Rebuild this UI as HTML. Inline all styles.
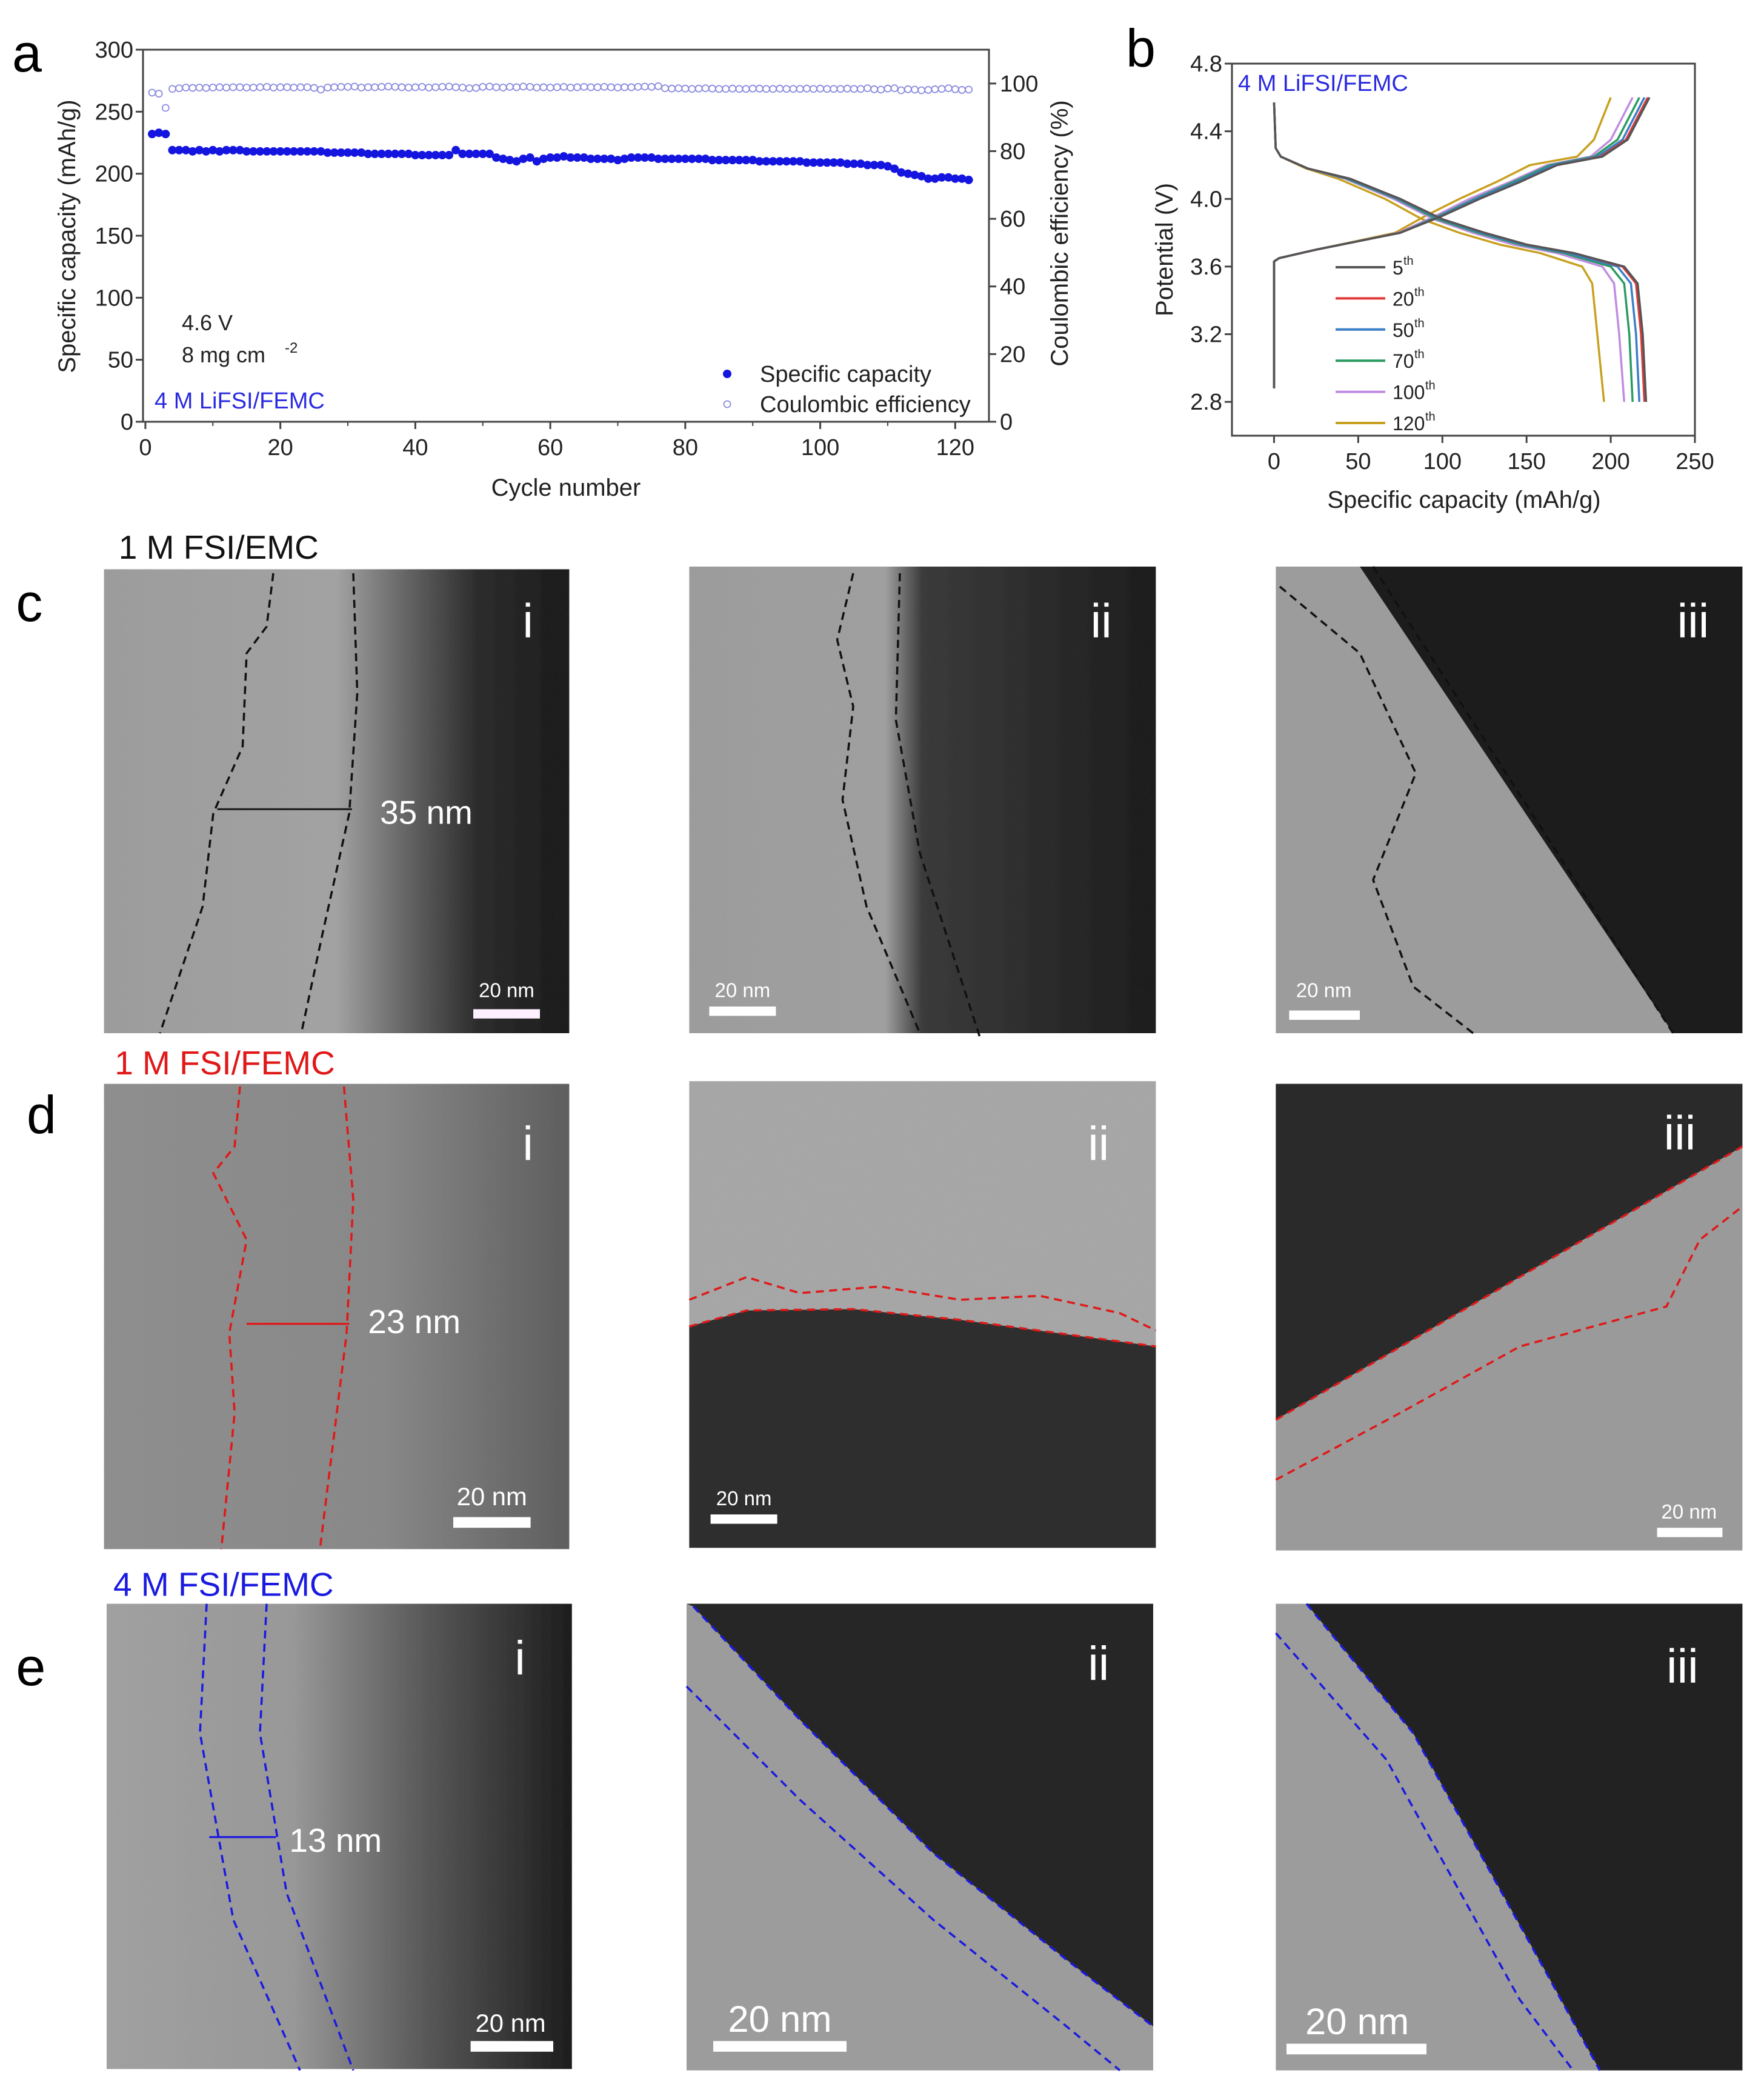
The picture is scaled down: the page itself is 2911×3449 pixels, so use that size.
<!DOCTYPE html>
<html><head><meta charset="utf-8">
<style>
html,body{margin:0;padding:0;background:#fff;}
svg{display:block;font-family:"Liberation Sans",Arial,sans-serif;}
</style></head>
<body>
<svg id="fig" xmlns="http://www.w3.org/2000/svg" width="2911" height="3449" viewBox="0 0 2911 3449">
<defs>
<filter id="noise" x="0" y="0" width="100%" height="100%">
<feTurbulence type="fractalNoise" baseFrequency="0.35" numOctaves="2" seed="3" result="t"/>
<feColorMatrix in="t" type="matrix" values="0 0 0 0 0.5  0 0 0 0 0.5  0 0 0 0 0.5  0 0 0 0.28 0" result="n"/>
<feComposite in="n" in2="SourceGraphic" operator="in" result="nn"/>
<feBlend in="SourceGraphic" in2="nn" mode="overlay"/>
</filter>
<linearGradient id="gci" x1="0" y1="0" x2="1" y2="0"><stop offset="0" stop-color="#9c9c9c"/><stop offset="0.5" stop-color="#a2a2a2"/><stop offset="0.62" stop-color="#707070"/><stop offset="0.8" stop-color="#2c2c2c"/><stop offset="1" stop-color="#1a1a1a"/></linearGradient>
<linearGradient id="gcii" x1="0" y1="0" x2="1" y2="0"><stop offset="0" stop-color="#9c9c9c"/><stop offset="0.42" stop-color="#9f9f9f"/><stop offset="0.5" stop-color="#3a3a3a"/><stop offset="1" stop-color="#1c1c1c"/></linearGradient>
<linearGradient id="gdi" x1="0" y1="0" x2="1" y2="0"><stop offset="0" stop-color="#8e8e8e"/><stop offset="0.6" stop-color="#888"/><stop offset="1" stop-color="#5e5e5e"/></linearGradient>
<linearGradient id="gei" x1="0" y1="0" x2="1" y2="0"><stop offset="0" stop-color="#a0a0a0"/><stop offset="0.4" stop-color="#989898"/><stop offset="0.7" stop-color="#555"/><stop offset="1" stop-color="#1c1c1c"/></linearGradient>
</defs>

<!-- ================= Chart a ================= -->
<g id="chartA"></g>
<!-- ================= Chart b ================= -->
<g id="chartB"></g>

<!-- ================= TEM images ================= -->
<g transform="scale(2.2)">
 <text x="12" y="466" font-size="40">c</text>
 <text x="20" y="850" font-size="40">d</text>
 <text x="12" y="1264" font-size="40">e</text>
 <text x="89" y="419" font-size="25" fill="#111">1 M FSI/EMC</text>
 <text x="86" y="806" font-size="25" fill="#e01818">1 M FSI/FEMC</text>
 <text x="85" y="1197" font-size="25" fill="#1a1ae0">4 M FSI/FEMC</text>

 <!-- c-i -->
 <g>
  <rect x="78" y="427" width="349" height="348" fill="url(#gci)" filter="url(#noise)"/>
  <path d="M205,430 L200,470 L185,490 L182,560 L160,610 L152,680 L120,775" fill="none" stroke="#111" stroke-width="1.6" stroke-dasharray="6,4"/>
  <path d="M265,430 L268,520 L262,610 L242,700 L226,775" fill="none" stroke="#111" stroke-width="1.6" stroke-dasharray="6,4"/>
  <line x1="163" y1="607" x2="264" y2="607" stroke="#222" stroke-width="1.5"/>
  <text x="285" y="618" font-size="25" fill="#fff">35 nm</text>
  <text x="392" y="478" font-size="36" fill="#fff">i</text>
  <rect x="355" y="757" width="50" height="7" fill="#fff0ff"/>
  <text x="380" y="748" font-size="15" fill="#fff" text-anchor="middle">20 nm</text>
 </g>
 <!-- c-ii -->
 <g>
  <rect x="517" y="425" width="350" height="350" fill="url(#gcii)" filter="url(#noise)"/>
  <path d="M640,430 L628,480 L640,530 L632,600 L650,680 L690,775" fill="none" stroke="#111" stroke-width="1.6" stroke-dasharray="6,4"/>
  <path d="M675,430 L672,540 L690,640 L735,778" fill="none" stroke="#111" stroke-width="1.6" stroke-dasharray="6,4"/>
  <text x="818" y="478" font-size="36" fill="#fff">ii</text>
  <rect x="532" y="755" width="50" height="7" fill="#fff"/>
  <text x="557" y="748" font-size="15" fill="#fff" text-anchor="middle">20 nm</text>
 </g>
 <!-- c-iii -->
 <g>
  <rect x="957" y="425" width="350" height="350" fill="#9c9c9c" filter="url(#noise)"/>
  <polygon points="1020,425 1307,425 1307,775 1255,775" fill="#1c1c1c"/>
  <path d="M1030,425 L1255,775" fill="none" stroke="#111" stroke-width="1.6" stroke-dasharray="6,4"/>
  <path d="M960,440 L1020,490 L1062,580 L1030,660 L1060,740 L1105,775" fill="none" stroke="#111" stroke-width="1.6" stroke-dasharray="6,4"/>
  <text x="1258" y="478" font-size="36" fill="#fff">iii</text>
  <rect x="967" y="758" width="53" height="7" fill="#fff"/>
  <text x="993" y="748" font-size="15" fill="#fff" text-anchor="middle">20 nm</text>
 </g>

 <!-- d-i -->
 <g>
  <rect x="78" y="813" width="349" height="349" fill="url(#gdi)" filter="url(#noise)"/>
  <path d="M180,815 L176,860 L160,880 L185,930 L172,1000 L176,1060 L166,1162" fill="none" stroke="#e01818" stroke-width="1.6" stroke-dasharray="6,4"/>
  <path d="M258,815 L265,900 L260,1000 L240,1162" fill="none" stroke="#e01818" stroke-width="1.6" stroke-dasharray="6,4"/>
  <line x1="185" y1="993" x2="262" y2="993" stroke="#e01818" stroke-width="1.5"/>
  <text x="276" y="1000" font-size="25" fill="#fff">23 nm</text>
  <text x="392" y="870" font-size="36" fill="#fff">i</text>
  <rect x="340" y="1138" width="58" height="8" fill="#fff"/>
  <text x="369" y="1129" font-size="19" fill="#fff" text-anchor="middle">20 nm</text>
 </g>
 <!-- d-ii -->
 <g>
  <rect x="517" y="811" width="350" height="350" fill="#a6a6a6" filter="url(#noise)"/>
  <path d="M517,995 L560,983 L640,982 L720,990 L867,1010 L867,1161 L517,1161 Z" fill="#2e2e2e"/>
  <path d="M517,975 L560,958 L600,970 L660,965 L720,975 L780,972 L840,985 L867,998" fill="none" stroke="#e01818" stroke-width="1.6" stroke-dasharray="6,4"/>
  <path d="M517,995 L560,983 L640,982 L720,990 L867,1010" fill="none" stroke="#e01818" stroke-width="1.6" stroke-dasharray="6,4"/>
  <text x="816" y="870" font-size="36" fill="#fff">ii</text>
  <rect x="533" y="1136" width="50" height="7" fill="#fff"/>
  <text x="558" y="1129" font-size="15" fill="#fff" text-anchor="middle">20 nm</text>
 </g>
 <!-- d-iii -->
 <g>
  <rect x="957" y="813" width="350" height="350" fill="#9a9a9a" filter="url(#noise)"/>
  <polygon points="957,813 1307,813 1307,860 957,1065" fill="#2a2a2a"/>
  <path d="M957,1065 L1307,860" fill="none" stroke="#e01818" stroke-width="1.6" stroke-dasharray="6,4"/>
  <path d="M957,1110 L1050,1060 L1140,1010 L1250,980 L1275,930 L1307,905" fill="none" stroke="#e01818" stroke-width="1.6" stroke-dasharray="6,4"/>
  <text x="1248" y="862" font-size="36" fill="#fff">iii</text>
  <rect x="1243" y="1146" width="49" height="7" fill="#fff"/>
  <text x="1267" y="1139" font-size="15" fill="#fff" text-anchor="middle">20 nm</text>
 </g>

 <!-- e-i -->
 <g>
  <rect x="80" y="1203" width="349" height="349" fill="url(#gei)" filter="url(#noise)"/>
  <path d="M155,1203 L150,1300 L175,1440 L225,1553" fill="none" stroke="#1a1ae0" stroke-width="1.6" stroke-dasharray="6,4"/>
  <path d="M200,1203 L195,1300 L215,1420 L265,1553" fill="none" stroke="#1a1ae0" stroke-width="1.6" stroke-dasharray="6,4"/>
  <line x1="157" y1="1378" x2="207" y2="1378" stroke="#1a1ae0" stroke-width="1.5"/>
  <text x="217" y="1389" font-size="25" fill="#fff">13 nm</text>
  <text x="386" y="1256" font-size="36" fill="#fff">i</text>
  <rect x="353" y="1531" width="62" height="8" fill="#fff"/>
  <text x="383" y="1524" font-size="19" fill="#fff" text-anchor="middle">20 nm</text>
 </g>
 <!-- e-ii -->
 <g>
  <rect x="515" y="1203" width="350" height="350" fill="#9c9c9c" filter="url(#noise)"/>
  <polygon points="515,1203 865,1203 865,1520 800,1470 700,1390 600,1290 520,1205" fill="#262626"/>
  <path d="M520,1205 L600,1290 L700,1390 L800,1470 L865,1520" fill="none" stroke="#1a1ae0" stroke-width="1.6" stroke-dasharray="6,4"/>
  <path d="M515,1265 L600,1350 L700,1440 L800,1520 L840,1553" fill="none" stroke="#1a1ae0" stroke-width="1.6" stroke-dasharray="6,4"/>
  <text x="816" y="1260" font-size="36" fill="#fff">ii</text>
  <rect x="535" y="1531" width="100" height="8" fill="#fff"/>
  <text x="585" y="1524" font-size="28" fill="#fff" text-anchor="middle">20 nm</text>
 </g>
 <!-- e-iii -->
 <g>
  <rect x="957" y="1203" width="350" height="350" fill="#9c9c9c" filter="url(#noise)"/>
  <polygon points="980,1203 1307,1203 1307,1553 1200,1553 1160,1480 1060,1300" fill="#222"/>
  <path d="M980,1203 L1060,1300 L1160,1480 L1200,1553" fill="none" stroke="#1a1ae0" stroke-width="1.6" stroke-dasharray="6,4"/>
  <path d="M957,1225 L1040,1320 L1140,1500 L1180,1553" fill="none" stroke="#1a1ae0" stroke-width="1.6" stroke-dasharray="6,4"/>
  <text x="1250" y="1262" font-size="36" fill="#fff">iii</text>
  <rect x="965" y="1533" width="105" height="8" fill="#fff"/>
  <text x="1018" y="1526" font-size="28" fill="#fff" text-anchor="middle">20 nm</text>
 </g>
</g>
</svg>

<script>
// ---------- Chart a data ----------
const cycles = [];
for (let i = 1; i <= 122; i++) cycles.push(i);
const capacity = [232,233,232,219,219,219,218,219,218,219,218,219,219,219,218,218,218,218,218,218,218,218,218,218,218,218,217,217,217,217,217,217,216,216,216,216,216,216,216,215,215,215,215,215,215,219,216,216,216,216,216,213,212,211,210,212,213,210,212,213,213,214,213,213,213,212,212,212,212,211,212,213,213,213,213,212,212,212,212,212,212,212,212,211,211,211,211,211,211,211,210,210,210,210,210,210,210,209,209,209,209,209,209,208,208,208,207,207,207,206,204,201,200,199,198,196,196,197,197,196,196,195];
const ce = [97.3,97.0,92.8,98.4,98.6,98.8,98.7,98.8,98.7,98.8,98.9,98.8,98.9,98.9,98.8,98.8,98.9,99.0,98.8,98.9,98.9,98.8,98.9,98.9,98.7,98.2,98.8,98.9,99.0,99.0,99.1,98.8,98.9,98.9,99.0,99.1,99.0,98.9,98.8,98.9,99.0,98.8,98.9,99.0,99.1,98.9,98.8,98.6,98.7,99.0,99.1,98.9,98.8,99.0,98.9,99.1,99.0,98.8,98.9,98.8,98.9,99.0,98.8,98.9,99.0,98.9,98.9,99.0,98.9,98.8,98.9,98.9,99.0,99.1,99.0,99.2,98.6,98.5,98.6,98.5,98.4,98.5,98.6,98.5,98.4,98.4,98.5,98.4,98.4,98.5,98.5,98.4,98.4,98.5,98.4,98.4,98.4,98.5,98.4,98.5,98.4,98.4,98.4,98.5,98.4,98.4,98.6,98.3,98.2,98.5,98.6,98.0,98.3,98.2,98.0,98.1,98.3,98.4,98.6,98.3,98.1,98.2];
const xTicksA = [0,20,40,60,80,100,120];
const yTicksA = [0,50,100,150,200,250,300];
const y2TicksA = [0,20,40,60,80,100];

// ---------- Chart b data ----------
const cycleNames = ["5","20","50","70","100","120"];
const cycleColors = ["#555555","#e03a3a","#3a7ec8","#2a9a60","#c08ce0","#c8a020"];
const chargeV = [2.88,3.63,3.65,3.70,3.75,3.80,3.90,4.00,4.10,4.20,4.25,4.35,4.60];
const chargeQ5   = [0,0,3,25,50,75,100,122,146,168,195,210,223];
const chargeQ20  = [0,0,3,25,50,75,100,122,146,168,194,209,222];
const chargeQ50  = [0,0,3,25,50,75,99,120,144,166,192,207,220];
const chargeQ70  = [0,0,3,25,50,75,98,119,142,164,190,204,217];
const chargeQ100 = [0,0,3,25,50,74,96,116,140,162,188,200,213];
const chargeQ120 = [0,0,3,25,49,72,90,110,132,152,180,190,200];
const dischargeV = [4.57,4.30,4.25,4.18,4.12,4.00,3.88,3.80,3.73,3.68,3.60,3.50,3.20,2.80];
const dischQ5   = [0,1,4,20,45,75,100,125,150,178,208,216,219,221];
const dischQ20  = [0,1,4,20,45,75,100,125,150,178,207,215,218,220];
const dischQ50  = [0,1,4,20,44,74,99,123,148,175,204,212,215,217];
const dischQ70  = [0,1,4,20,43,73,97,121,146,172,200,208,211,213];
const dischQ100 = [0,1,4,20,42,71,95,118,142,168,195,202,205,208];
const dischQ120 = [0,1,4,19,38,66,88,110,134,158,183,189,192,196];
const xTicksB = [0,50,100,150,200,250];
const yTicksB = [2.8,3.2,3.6,4.0,4.4,4.8];

const NS = "http://www.w3.org/2000/svg";
function mk(parent, tag, attrs, text) {
  const e = document.createElementNS(NS, tag);
  for (const k in attrs) e.setAttribute(k, attrs[k]);
  if (text !== undefined) e.textContent = text;
  parent.appendChild(e);
  return e;
}

// ---------- draw chart a ----------
(function(){
  const g = document.getElementById("chartA");
  const L = 236, R = 1632, T = 82, B = 696;
  const xA = v => L + (v + 0.35) / 125.35 * (R - L);
  const yA = v => B - v / 300 * (B - T);
  const y2A = v => B - v / 110 * (B - T);
  const lbl = mk(g, "text", {x: 20, y: 118, "font-size": 88}, "a");
  
  
  const frame = mk(g, "rect", {x: L, y: T, width: R - L, height: B - T, fill: "none", stroke: "#444", "stroke-width": 3});
  
  
  xTicksA.forEach(t => {
    const x = xA(t);
    mk(g, "line", {x1: x, y1: B, x2: x, y2: B + 12, stroke: "#444", "stroke-width": 3});
    const tl = mk(g, "text", {x: x, y: B + 55, "font-size": 38, "text-anchor": "middle", fill: "#222"}, t);
    
    
  });
  xTicksA.slice(0, -1).forEach(t => { const x = xA(t + 10); mk(g, "line", {x1: x, y1: B, x2: x, y2: B + 7, stroke: "#444", "stroke-width": 2}); });
  yTicksA.forEach(t => {
    const y = yA(t);
    mk(g, "line", {x1: L, y1: y, x2: L - 12, y2: y, stroke: "#444", "stroke-width": 3});
    const tl = mk(g, "text", {x: L - 16, y: y + 13, "font-size": 38, "text-anchor": "end", fill: "#222"}, t);
    
    
  });
  y2TicksA.forEach(t => {
    const y = y2A(t);
    mk(g, "line", {x1: R, y1: y, x2: R + 12, y2: y, stroke: "#444", "stroke-width": 3});
    const tl = mk(g, "text", {x: R + 18, y: y + 13, "font-size": 38, fill: "#222"}, t);
    
    
  });
  const xt = mk(g, "text", {x: 934, y: 818, "font-size": 40, "text-anchor": "middle", fill: "#222"}, "Cycle number");
  
  
  const yt = mk(g, "text", {x: 0, y: 0, "font-size": 40, "text-anchor": "middle", fill: "#222", transform: "translate(124,390) rotate(-90)"}, "Specific capacity (mAh/g)");
  
  
  const y2t = mk(g, "text", {x: 0, y: 0, "font-size": 40, "text-anchor": "middle", fill: "#222", transform: "translate(1762,385) rotate(-90)"}, "Coulombic efficiency (%)");
  
  
  cycles.forEach((c, i) => {
    const p = mk(g, "circle", {cx: xA(c), cy: y2A(ce[i]), r: 5.5, fill: "none", stroke: "#8a8ae0", "stroke-width": 1.8});
    
    
  });
  cycles.forEach((c, i) => {
    const p = mk(g, "circle", {cx: xA(c), cy: yA(capacity[i]), r: 7, fill: "#1515e0"});
    
    
  });
  const a1 = mk(g, "text", {x: 300, y: 545, "font-size": 36, fill: "#222"}, "4.6 V");
  
  
  const a2 = mk(g, "text", {x: 300, y: 598, "font-size": 36, fill: "#222"}, "8 mg cm ");
  
  
  mk(g, "text", {x: 470, y: 582, "font-size": 24, fill: "#222"}, "-2");
  const a3 = mk(g, "text", {x: 255, y: 674, "font-size": 38, fill: "#2a2ae0"}, "4 M LiFSI/FEMC");
  
  
  const le1 = mk(g, "g", {});
  
  
  mk(le1, "circle", {cx: 1200, cy: 617, r: 7, fill: "#1515e0"});
  mk(le1, "text", {x: 1254, y: 630, "font-size": 38, fill: "#222"}, "Specific capacity");
  const le2 = mk(g, "g", {});
  
  
  mk(le2, "circle", {cx: 1200, cy: 667, r: 5.5, fill: "none", stroke: "#8a8ae0", "stroke-width": 1.8});
  mk(le2, "text", {x: 1254, y: 680, "font-size": 38, fill: "#222"}, "Coulombic efficiency");
})();

// ---------- draw chart b ----------
(function(){
  const g = document.getElementById("chartB");
  const L = 2033, R = 2797, T = 105, B = 719;
  const xB = v => L + (v + 25) / 275 * (R - L);
  const yB = v => B - (v - 2.6) / 2.2 * (B - T);
  const lbl = mk(g, "text", {x: 1858, y: 110, "font-size": 88}, "b");
  
  
  const frame = mk(g, "rect", {x: L, y: T, width: R - L, height: B - T, fill: "none", stroke: "#444", "stroke-width": 3});
  
  
  xTicksB.forEach(t => {
    const x = xB(t);
    mk(g, "line", {x1: x, y1: B, x2: x, y2: B + 12, stroke: "#444", "stroke-width": 3});
    const tl = mk(g, "text", {x: x, y: B + 55, "font-size": 38, "text-anchor": "middle", fill: "#222"}, t);
    
    
  });
  yTicksB.forEach(t => {
    const y = yB(t);
    mk(g, "line", {x1: L, y1: y, x2: L - 12, y2: y, stroke: "#444", "stroke-width": 3});
    const tl = mk(g, "text", {x: L - 16, y: y + 13, "font-size": 38, "text-anchor": "end", fill: "#222"}, t.toFixed(1));
    
    
  });
  const xt = mk(g, "text", {x: 2416, y: 838, "font-size": 40, "text-anchor": "middle", fill: "#222"}, "Specific capacity (mAh/g)");
  
  
  const yt = mk(g, "text", {x: 0, y: 0, "font-size": 40, "text-anchor": "middle", fill: "#222", transform: "translate(1935,412) rotate(-90)"}, "Potential (V)");
  
  
  const an = mk(g, "text", {x: 2043, y: 150, "font-size": 38, fill: "#2a2ae0"}, "4 M LiFSI/FEMC");
  
  
  const chargeSets = [chargeQ5, chargeQ20, chargeQ50, chargeQ70, chargeQ100, chargeQ120];
  const dischSets = [dischQ5, dischQ20, dischQ50, dischQ70, dischQ100, dischQ120];
  for (let k = cycleNames.length - 1; k >= 0; k--) {
    const c = chargeSets[k].map((q, i) => xB(q).toFixed(1) + "," + yB(chargeV[i]).toFixed(1)).join(" ");
    const pc = mk(g, "polyline", {points: c, fill: "none", stroke: cycleColors[k], "stroke-width": 3.5, "stroke-linejoin": "round"});
    
    
    const d = dischSets[k].map((q, i) => xB(q).toFixed(1) + "," + yB(dischargeV[i]).toFixed(1)).join(" ");
    const pd = mk(g, "polyline", {points: d, fill: "none", stroke: cycleColors[k], "stroke-width": 3.5, "stroke-linejoin": "round"});
    
    
  }
  cycleNames.forEach((n, k) => {
    const y = 441 + k * 51.4;
    const le = mk(g, "g", {});
    
    
    mk(le, "line", {x1: 2204, y1: y, x2: 2286, y2: y, stroke: cycleColors[k], "stroke-width": 4});
    mk(le, "text", {x: 2298, y: y + 12, "font-size": 32, fill: "#222"}, n);
    mk(le, "text", {x: 2298 + n.length * 18, y: y - 4, "font-size": 20, fill: "#222"}, "th");
  });
})();
</script>
</body></html>
